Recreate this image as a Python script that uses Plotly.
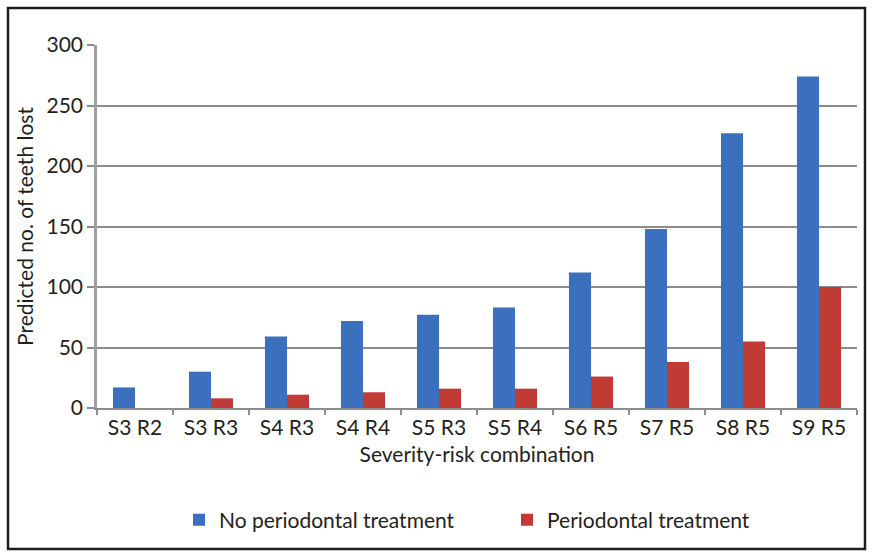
import plotly.graph_objects as go

# Severity-risk combinations and predicted teeth lost
categories = ["S3 R2", "S3 R3", "S4 R3", "S4 R4", "S5 R3",
              "S5 R4", "S6 R5", "S7 R5", "S8 R5", "S9 R5"]
no_treatment = [17, 30, 59, 72, 77, 83, 112, 148, 227, 274]
with_treatment = [0, 8, 11, 13, 16, 16, 26, 38, 55, 100]

W, H = 872, 556
FONT = "Lato"
TEXT = "#231f20"
GRID = "#8c8c8c"
FS = 21

fig = go.Figure()
fig.add_trace(go.Bar(
    x=categories, y=no_treatment, name="No periodontal treatment",
    marker=dict(color="#3a70bd", line=dict(width=0)),
))
fig.add_trace(go.Bar(
    x=categories, y=with_treatment, name="Periodontal treatment",
    marker=dict(color="#c13b35", line=dict(width=0)),
))

# plot area in pixels
x_left, x_right = 97, 857
y_top, y_bottom = 45, 408

fig.update_layout(
    width=W, height=H,
    margin=dict(l=0, r=0, t=0, b=0, autoexpand=False),
    paper_bgcolor="white", plot_bgcolor="white",
    barmode="group", bargap=0.42, bargroupgap=0,
    font=dict(family=FONT, size=FS, color=TEXT),
    xaxis=dict(
        domain=[x_left / W, x_right / W],
        type="category",
        showline=True, linecolor=GRID, linewidth=1.5,
        ticks="outside", tickson="boundaries", ticklen=5,
        tickcolor=GRID, tickwidth=1.5,
        tickfont=dict(family=FONT, size=FS, color=TEXT),
        title=dict(text="Severity-risk combination",
                   font=dict(family=FONT, size=FS, color=TEXT), standoff=9),
        automargin=False,
    ),
    yaxis=dict(
        domain=[1 - y_bottom / H, 1 - y_top / H],
        range=[0, 300], tickvals=[0, 50, 100, 150, 200, 250, 300],
        showgrid=True, gridcolor=GRID, gridwidth=1.5,
        showline=True, linecolor="#a0a0a0", linewidth=2.5,
        ticks="outside", ticklen=7, tickcolor=GRID, tickwidth=1.5,
        tickfont=dict(family=FONT, size=FS, color=TEXT),
        title=dict(text="Predicted no. of teeth lost",
                   font=dict(family=FONT, size=FS, color=TEXT), standoff=8),
        zeroline=False,
        automargin=False,
    ),
    legend=dict(
        orientation="h",
        xref="paper", yref="paper",
        x=179 / W, xanchor="left",
        y=1 - 520 / H, yanchor="middle",
        itemwidth=30, entrywidth=283, entrywidthmode="pixels",
        font=dict(family=FONT, size=FS, color=TEXT),
        bgcolor="rgba(0,0,0,0)",
    ),
    shapes=[dict(
        type="rect", xref="paper", yref="paper",
        x0=8 / W, x1=865 / W, y0=1 - 549 / H, y1=1 - 8 / H,
        line=dict(color="#1e1e1e", width=2.5), layer="above",
    )],
)

fig.write_html("out.html")
